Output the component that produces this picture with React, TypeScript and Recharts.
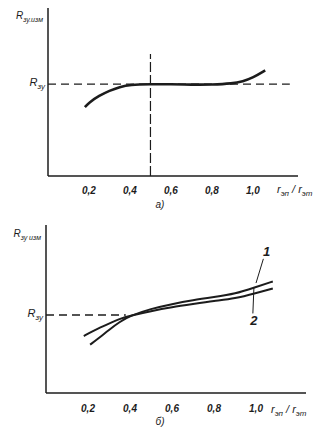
import { LineChart, Line, XAxis, YAxis, ReferenceLine, ReferenceDot, Label } from "recharts"

const INK = "#1c1c1c"
const FONT = "'Liberation Sans Narrow', 'Liberation Sans', Arial, sans-serif"

const X_TICKS = [0.2, 0.4, 0.6, 0.8, 1.0]
const R_LEVEL = 1

// а) single curve
const A_X = [0.18, 0.2, 0.25, 0.3, 0.35, 0.4, 0.5, 0.6, 0.7, 0.8, 0.9, 0.95, 1.0, 1.06]
const A_Y = [0.75, 0.8, 0.875, 0.93, 0.97, 0.995, 1.0, 1.0, 0.995, 0.995, 1.007, 1.03, 1.07, 1.15]
const A_MARKER_X = 0.5

// б) curves 1 and 2
const B1_X = [0.21, 0.25, 0.3, 0.35, 0.4, 0.5, 0.6, 0.7, 0.8, 0.9, 1.0, 1.08]
const B1_Y = [0.62, 0.7, 0.81, 0.91, 0.99, 1.08, 1.14, 1.19, 1.23, 1.27, 1.36, 1.43]
const B2_X = [0.18, 0.2, 0.25, 0.3, 0.35, 0.4, 0.5, 0.6, 0.7, 0.8, 0.9, 1.0, 1.08]
const B2_Y = [0.73, 0.76, 0.83, 0.89, 0.95, 0.99, 1.05, 1.1, 1.14, 1.18, 1.21, 1.28, 1.34]

const toPoints = (xs: number[], ys: number[]) => xs.map((x, i) => ({ x, y: ys[i] }))

const fmt = (v: number) => v.toFixed(1).replace(".", ",")

function Sub({ base, sub, x, y, anchor = "start", size = 11 }: any) {
  return (
    <text x={x} y={y} textAnchor={anchor} fontFamily={FONT} fontStyle="italic" fontSize={size} fill={INK}>
      <tspan>{base}</tspan>
      <tspan dy={3} fontSize={size - 3}>{sub}</tspan>
    </text>
  )
}

function XTick({ x, y, payload, dy }: any) {
  return (
    <text x={x} y={y + dy} textAnchor="middle" fontFamily={FONT} fontStyle="italic" fontWeight="bold" fontSize={10} fill={INK}>
      {fmt(payload.value)}
    </text>
  )
}

function YTick({ x, y }: any) {
  return <Sub base="R" sub="зу" x={x - 3} y={y + 2} anchor="end" />
}

function xLabel(dx: number, dy: number) {
  return ({ viewBox }: any) => {
    const sx = viewBox.x + viewBox.width - dx
    const sy = viewBox.y + dy
    return (
      <text x={sx} y={sy} fontFamily={FONT} fontStyle="italic" fontSize={11} fill={INK}>
        <tspan>r</tspan>
        <tspan dy={3} fontSize={8}>эп</tspan>
        <tspan dy={-3}> / r</tspan>
        <tspan dy={3} fontSize={8}>эт</tspan>
      </text>
    )
  }
}

function caption(text: string, dy: number) {
  return ({ viewBox }: any) => (
    <text x={160} y={viewBox.y + dy} textAnchor="middle" fontFamily={FONT} fontStyle="italic" fontSize={10} fill={INK}>
      {text}
    </text>
  )
}

function yTitle(sub: string, dy: number) {
  return ({ viewBox }: any) => (
    <Sub base="R" sub={sub} x={viewBox.x + viewBox.width - 5} y={viewBox.y + dy} anchor="end" size={10} />
  )
}

const dashed = { stroke: INK, strokeWidth: 1.3, strokeDasharray: "8 5" }

function ChartA() {
  const data = toPoints(A_X, A_Y)
  return (
    <LineChart width={320} height={215} data={data} margin={{ top: 8, right: 22, bottom: 0, left: 0 }}>
      <XAxis
        type="number"
        dataKey="x"
        domain={[0, 1.22]}
        ticks={X_TICKS}
        height={39}
        tickLine={false}
        tickSize={0}
        tickMargin={0}
        axisLine={{ stroke: INK, strokeWidth: 1.5 }}
        tick={(p: any) => <XTick {...p} dy={18} />}
      >
        <Label content={xLabel(21, 17)} />
        <Label content={caption("а)", 32)} />
      </XAxis>
      <YAxis
        type="number"
        domain={[0, 1.83]}
        ticks={[R_LEVEL]}
        width={48}
        tickLine={false}
        tickSize={0}
        tickMargin={0}
        axisLine={{ stroke: INK, strokeWidth: 1.5 }}
        tick={(p: any) => <YTick {...p} />}
      >
        <Label content={yTitle("зу.изм", 11)} />
      </YAxis>
      <ReferenceLine segment={[{ x: 0, y: R_LEVEL }, { x: 1.18, y: R_LEVEL }]} {...dashed} />
      <ReferenceLine segment={[{ x: A_MARKER_X, y: 0 }, { x: A_MARKER_X, y: 1.33 }]} stroke={INK} strokeWidth={1.2} strokeDasharray="10 3" />
      <Line type="basis" dataKey="y" stroke={INK} strokeWidth={2.6} dot={false} isAnimationActive={false} />
    </LineChart>
  )
}

function ChartB() {
  const c1 = toPoints(B1_X, B1_Y)
  const c2 = toPoints(B2_X, B2_Y)
  const num = (value: string) => ({
    value,
    position: "center" as const,
    fill: INK,
    fontSize: 13,
    fontStyle: "italic",
    fontWeight: "bold",
    fontFamily: FONT,
  })
  return (
    <LineChart width={320} height={224} margin={{ top: 10, right: 14, bottom: 0, left: 0 }}>
      <XAxis
        type="number"
        dataKey="x"
        domain={[0, 1.238]}
        ticks={X_TICKS}
        height={46}
        tickLine={false}
        tickSize={0}
        tickMargin={0}
        axisLine={{ stroke: INK, strokeWidth: 1.5 }}
        tick={(p: any) => <XTick {...p} dy={19} />}
      >
        <Label content={xLabel(35, 20)} />
        <Label content={caption("б)", 32)} />
      </XAxis>
      <YAxis
        type="number"
        domain={[0, 2.154]}
        ticks={[R_LEVEL]}
        width={46}
        tickLine={false}
        tickSize={0}
        tickMargin={0}
        axisLine={{ stroke: INK, strokeWidth: 1.5 }}
        tick={(p: any) => <YTick {...p} />}
      >
        <Label content={yTitle("зу изм", 12)} />
      </YAxis>
      <ReferenceLine segment={[{ x: 0, y: R_LEVEL }, { x: 0.38, y: R_LEVEL }]} {...dashed} />
      <Line data={c1} type="basis" dataKey="y" stroke={INK} strokeWidth={2} dot={false} isAnimationActive={false} />
      <Line data={c2} type="basis" dataKey="y" stroke={INK} strokeWidth={2} dot={false} isAnimationActive={false} />
      <ReferenceLine segment={[{ x: 1.0, y: 1.41 }, { x: 1.035, y: 1.72 }]} stroke={INK} strokeWidth={1} />
      <ReferenceLine segment={[{ x: 0.99, y: 1.35 }, { x: 0.985, y: 1.02 }]} stroke={INK} strokeWidth={1} />
      <ReferenceDot x={1.05} y={1.82} r={0} stroke="none" label={num("1")} />
      <ReferenceDot x={0.99} y={0.93} r={0} stroke="none" label={num("2")} />
    </LineChart>
  )
}

export default function App() {
  return (
    <div style={{ position: "absolute", left: 0, top: 0, width: 320, height: 439, background: "#fff" }}>
      <ChartA />
      <ChartB />
    </div>
  )
}
